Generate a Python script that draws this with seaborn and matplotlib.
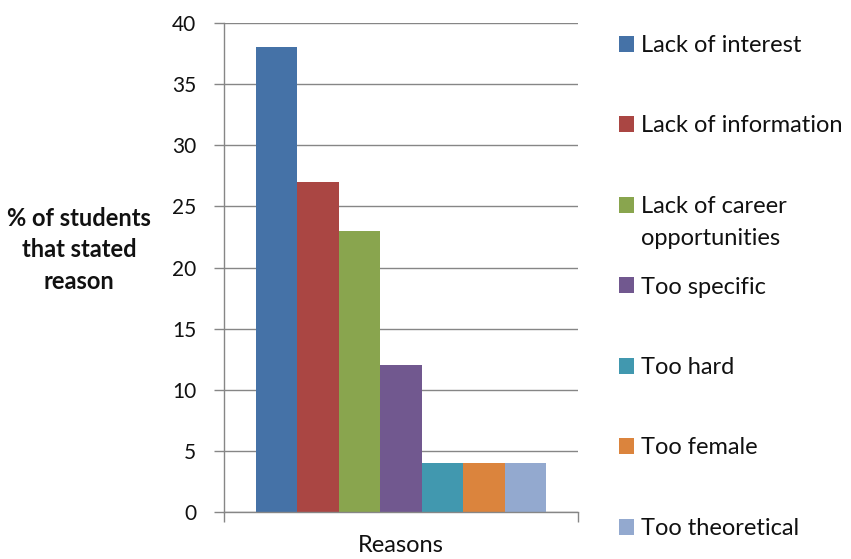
import matplotlib
matplotlib.use("Agg")
import matplotlib.pyplot as plt
import seaborn as sns
import pandas as pd

reasons = ["Lack of interest", "Lack of information", "Lack of career",
           "Too specific", "Too hard", "Too female", "Too theoretical"]
reason_extra = {"Lack of career": "opportunities"}   # second line of that legend label
values = [38, 27, 23, 12, 4, 4, 4]
category = ["Reasons"] * len(reasons)
colors = ["#4572A7", "#AA4643", "#89A54E", "#71588F", "#4198AF", "#DB843D", "#93A9CF"]
yticks = [0, 5, 10, 15, 20, 25, 30, 35, 40]

sns.set_theme(style="white")
plt.rcParams['font.family'] = ['Lato', 'DejaVu Sans']

df = pd.DataFrame({"category": category, "reason": reasons, "pct": values})

fig = plt.figure(figsize=(8.51, 5.59), dpi=100)
ax = fig.add_axes([224/851, 1-512/559, (578-224)/851, (512-23)/559])

sns.barplot(data=df, x="category", y="pct", hue="reason", hue_order=reasons,
            palette=colors, width=0.822, gap=0, saturation=1, ax=ax,
            edgecolor="none", linewidth=0, legend=True)

grid_c = "#868686"
txt_c = "#111111"
ax.set_ylim(0, 40)
ax.set_yticks(yticks)
ax.set_yticklabels([str(t) for t in yticks], fontsize=15, color=txt_c)
ax.yaxis.grid(True, color=grid_c, linewidth=1)
ax.set_axisbelow(True)
ax.set_xlim(-0.5, 0.5)
ax.set_xticks([-0.5, 0.5])
ax.set_xticklabels(["", ""])
ax.tick_params(axis="both", which="both", direction="out", length=7, width=1,
               color=grid_c, left=True, bottom=True)
ax.tick_params(axis="y", pad=13)
for s in ["top", "right"]:
    ax.spines[s].set_visible(False)
for s in ["left", "bottom"]:
    ax.spines[s].set_color(grid_c)
    ax.spines[s].set_linewidth(1)

ax.set_xlabel("Reasons", fontsize=17, color=txt_c, labelpad=6)
ax.set_ylabel("% of students\nthat stated\nreason", fontsize=17, fontweight="bold",
              rotation=0, color=txt_c, ha="center", va="center", linespacing=1.45)
ax.yaxis.set_label_coords(-0.41, 0.536)

handles, labels = ax.get_legend_handles_labels()
ax.get_legend().remove()
leg = fig.legend(handles, labels, loc="upper left", bbox_to_anchor=(619/851, 1-35/559),
                 frameon=False, fontsize=17, handlelength=0.64, handleheight=0.64,
                 handletextpad=0.3, labelspacing=2.52, borderaxespad=0, borderpad=0)
for t in leg.get_texts():
    t.set_color(txt_c)

# second line of the wrapped legend label, placed just below its first line
fig.canvas.draw()
W, H = fig.bbox.width, fig.bbox.height
for t in leg.get_texts():
    extra = reason_extra.get(t.get_text())
    if extra:
        bb = t.get_window_extent()
        fig.text(bb.x0 / W, (bb.y0 - 32) / H, extra, fontsize=17, color=txt_c,
                 ha="left", va="bottom")

fig.savefig("out.png", dpi=100)
